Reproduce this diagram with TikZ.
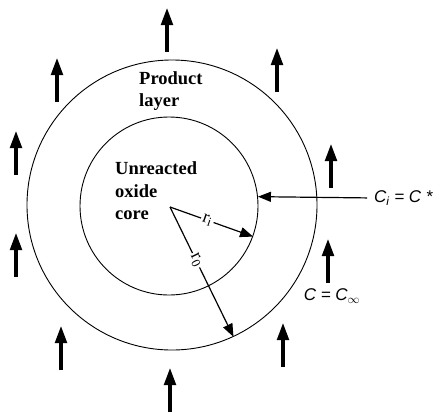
\documentclass[tikz,border=0pt]{standalone}
\usepackage{fontspec}
\setmainfont{Liberation Serif}
\newfontfamily\concfont{Liberation Sans}
\usetikzlibrary{arrows.meta}

\begin{document}
\begin{tikzpicture}[x=1pt, y=-1pt,
        shell/.style={circle, draw=black, line width=0.9pt, inner sep=0pt},
        region/.style={align=left, anchor=west, inner sep=0pt, font=\fontsize{18.5}{22.5}\selectfont\bfseries},
        conc/.style={inner sep=0pt, font=\concfont\itshape\fontsize{17}{19}\selectfont},
        rlabel/.style={sloped, fill=white, inner sep=1.5pt, font=\fontsize{18}{20}\selectfont},
        radius/.style={-{Triangle[length=13pt, width=10pt]}, line width=1.2pt},
        flow/.style={-{Triangle[length=18pt, width=11pt]}, line width=4.5pt}
    ]
    \useasboundingbox (0,0) rectangle (441,413);

    % particle: product layer around the shrinking core
    \node[shell, minimum size=290pt] (outer) at (172,205) {};
    \node[shell, minimum size=178pt] (core) at (169,206) {};
    \coordinate (ctr) at (170,207);

    \node[region] (layer) at (139,91) {Product\\layer};
    \node[region] (unreacted) at (115,191) {Unreacted\\oxide\\core};

    % radii
    \draw[radius] (ctr) -- node[rlabel, pos=0.45] {r\textsubscript{i}} (core.-20);
    \draw[radius] (ctr) -- node[rlabel, pos=0.41] {r\textsubscript{0}} (outer.-65);

    % concentrations
    \node[conc, anchor=west] (cstar) at (374,198) {C\textsubscript{i} = C *};
    \node[conc] (cinf) at (332,296) {C = C\textsubscript{$\infty$}};
    \draw[radius, shorten <=7pt] (cstar.west) -- (core.6.5);

    % gas flow
    \foreach \x/\y in {167/52, 277/92, 57/102, 16/175, 331/188, 16/277, 328/283, 61/370, 283/367, 170/412}
        \draw[flow] (\x,\y) -- ++(0,-45);
\end{tikzpicture}
\end{document}
